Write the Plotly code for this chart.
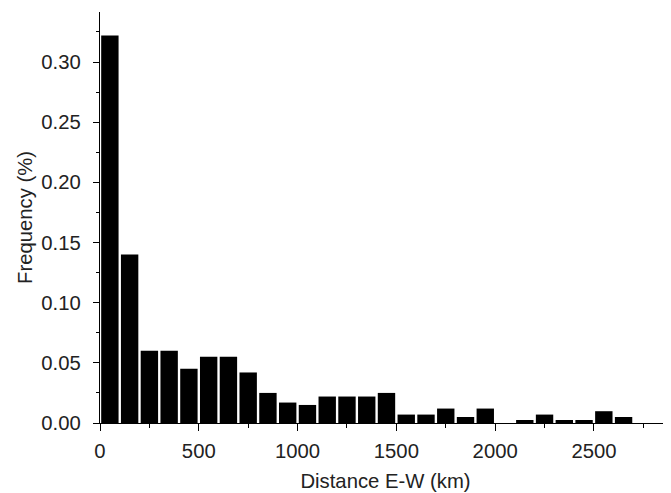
import plotly.graph_objects as go

bin_start = [0, 100, 200, 300, 400, 500, 600, 700, 800, 900, 1000, 1100, 1200, 1300,
             1400, 1500, 1600, 1700, 1800, 1900, 2000, 2100, 2200, 2300, 2400, 2500, 2600]
frequency = [0.322, 0.140, 0.060, 0.060, 0.045, 0.055, 0.055, 0.042, 0.025, 0.017,
             0.015, 0.022, 0.022, 0.022, 0.025, 0.007, 0.007, 0.012, 0.005, 0.012,
             0.0, 0.0025, 0.007, 0.0025, 0.0025, 0.0098, 0.005]
bin_width = 100
x_ticks = [0, 500, 1000, 1500, 2000, 2500]
y_ticks = [0.00, 0.05, 0.10, 0.15, 0.20, 0.25, 0.30]

centers = [b + bin_width / 2 for b in bin_start]

fig = go.Figure(go.Bar(
    x=centers, y=frequency,
    marker=dict(color="black", line=dict(width=0)),
))

font = dict(family="Liberation Sans, Arial, sans-serif", size=20.3, color="#222")

# page body has an 8px default margin, so the figure is sized to the visible area
fig.update_layout(
    width=663, height=485,
    margin=dict(l=92, r=0, t=4, b=70),
    paper_bgcolor="white", plot_bgcolor="white",
    bargap=0.12,
    showlegend=False,
    font=font,
)
fig.update_xaxes(
    range=[0, 2890], automargin=False,
    tickmode="array", tickvals=x_ticks, ticktext=[str(v) for v in x_ticks],
    ticks="outside", ticklen=7, tickwidth=1.3, tickcolor="black",
    ticklabelstandoff=2,
    showline=True, linecolor="black", linewidth=1.3,
    showgrid=False, zeroline=False,
    minor=dict(ticks="outside", ticklen=4, tickwidth=1.3, tickcolor="black", dtick=250, tick0=0, showgrid=False),
    title=dict(text="Distance E-W (km)", font=font, standoff=13),
    tickfont=font,
)
fig.update_yaxes(
    range=[0, 0.3416], automargin=False,
    tickmode="array", tickvals=y_ticks, ticktext=[f"{v:.2f}" for v in y_ticks],
    ticks="outside", ticklen=6, tickwidth=1.3, tickcolor="black",
    ticklabelstandoff=8,
    showline=True, linecolor="black", linewidth=1.3,
    showgrid=False, zeroline=False,
    minor=dict(ticks="outside", ticklen=3, tickwidth=1.3, tickcolor="black", dtick=0.025, tick0=0, showgrid=False),
    title=dict(text="Frequency (%)", font=font, standoff=3),
    tickfont=font,
)

fig.write_html("out.html")
